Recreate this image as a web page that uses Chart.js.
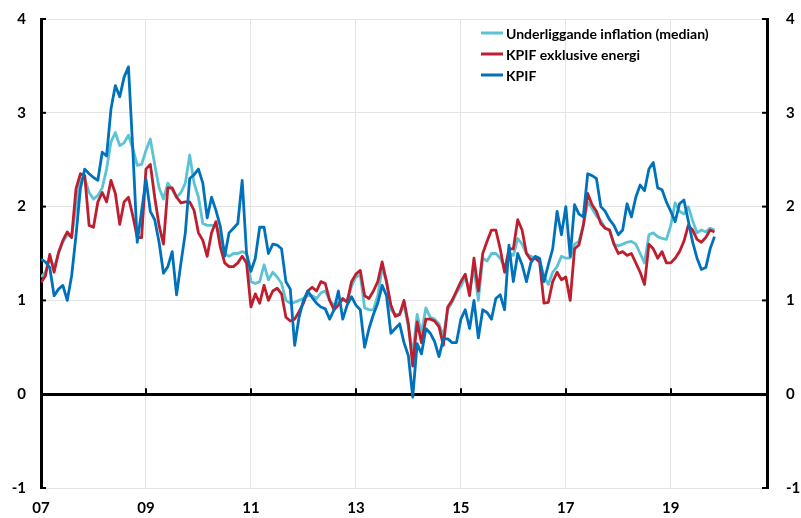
<!DOCTYPE html>
<html>
<head>
<meta charset="utf-8">
<script src="https://cdn.jsdelivr.net/npm/chart.js@4.4.1/dist/chart.umd.min.js"></script>
<style>
  html, body { margin: 0; padding: 0; background: #fff; }
  canvas { display: block; }
</style>
</head>
<body>
<canvas id="chart" width="801" height="518"></canvas>
<script>
// Månadsdata jan 2007 - nov 2019, årlig procentuell förändring
const seriesNames = ["Underliggande inflation (median)", "KPIF exklusive energi", "KPIF"];

const median = [1.25,1.30,1.45,1.35,1.50,1.62,1.70,1.68,2.00,2.30,
  2.30,2.15,2.08,2.12,2.20,2.40,2.69,2.79,2.65,2.68,
  2.76,2.62,2.44,2.45,2.60,2.72,2.45,2.20,2.08,2.25,
  2.18,2.10,2.15,2.25,2.55,2.25,2.10,1.82,1.80,1.80,
  1.80,1.70,1.50,1.47,1.50,1.50,1.52,1.50,1.20,1.18,
  1.20,1.38,1.22,1.30,1.25,1.18,1.00,0.97,0.98,1.00,
  1.02,1.05,1.05,1.02,1.08,1.10,1.00,0.95,0.98,1.00,
  1.00,1.15,1.25,1.27,0.92,0.90,0.90,1.05,1.35,1.20,
  0.90,0.85,0.85,0.95,0.72,0.42,0.85,0.65,0.92,0.82,
  0.80,0.75,0.62,0.90,0.98,1.08,1.15,1.25,1.10,1.35,
  1.00,1.45,1.42,1.50,1.50,1.45,1.35,1.50,1.48,1.66,
  1.60,1.50,1.47,1.45,1.42,1.26,1.17,1.30,1.36,1.47,
  1.45,1.45,1.60,1.63,1.80,2.05,1.98,1.90,1.85,1.77,
  1.75,1.60,1.58,1.60,1.62,1.63,1.60,1.50,1.40,1.70,
  1.72,1.68,1.66,1.65,1.80,2.04,1.95,1.92,2.00,1.85,
  1.72,1.75,1.73,1.77,1.75];

const exEnergi = [1.19,1.26,1.49,1.30,1.51,1.64,1.73,1.67,2.19,2.35,
  2.33,1.80,1.78,2.05,2.15,2.05,2.28,2.14,1.81,2.05,
  2.10,1.90,1.67,1.67,2.40,2.45,2.10,1.80,1.60,2.20,
  2.20,2.10,2.04,2.05,2.05,1.96,1.72,1.64,1.47,1.72,
  1.84,1.57,1.40,1.36,1.36,1.40,1.47,1.40,0.93,1.07,
  0.97,1.16,1.00,1.10,1.13,1.07,0.82,0.78,0.80,0.88,
  0.97,1.10,1.14,1.10,1.20,1.18,1.00,0.90,0.95,1.02,
  0.98,1.20,1.28,1.32,1.05,1.02,1.10,1.20,1.41,1.20,
  0.95,0.83,0.85,1.00,0.75,0.30,0.77,0.55,0.80,0.80,
  0.78,0.72,0.52,0.93,1.00,1.10,1.20,1.28,1.05,1.45,
  1.10,1.50,1.63,1.75,1.75,1.55,1.30,1.55,1.55,1.86,
  1.75,1.50,1.43,1.45,1.41,0.97,0.98,1.20,1.30,1.22,
  1.25,1.00,1.55,1.59,1.80,2.14,2.02,1.95,1.82,1.77,
  1.75,1.60,1.50,1.52,1.48,1.50,1.40,1.30,1.17,1.60,
  1.55,1.45,1.52,1.40,1.40,1.45,1.52,1.63,1.80,1.75,
  1.65,1.62,1.67,1.75,1.73];

const kpif = [1.44,1.41,1.35,1.05,1.12,1.16,1.00,1.26,1.69,2.19,
  2.40,2.35,2.31,2.28,2.58,2.54,3.04,3.29,3.17,3.38,
  3.49,2.60,1.62,1.95,2.29,1.95,1.86,1.62,1.29,1.36,
  1.52,1.06,1.40,1.72,2.30,2.34,2.40,2.25,1.88,2.10,
  1.96,1.79,1.47,1.72,1.77,1.82,2.28,1.50,1.31,1.45,
  1.78,1.78,1.50,1.60,1.59,1.55,1.20,1.12,0.52,0.82,
  1.00,1.10,1.03,0.97,0.93,0.91,0.80,0.90,1.10,0.80,
  0.95,1.04,0.95,0.90,0.50,0.70,0.85,0.97,1.16,1.05,
  0.65,0.70,0.75,0.55,0.41,-0.03,0.54,0.43,0.70,0.65,
  0.56,0.40,0.59,0.59,0.55,0.55,0.80,0.90,0.70,1.00,
  0.60,0.90,0.87,0.80,1.02,1.06,0.90,1.59,1.20,1.50,
  1.38,1.20,1.40,1.47,1.45,1.20,1.38,1.55,1.95,1.70,
  2.00,1.47,2.02,1.92,1.89,2.35,2.33,2.30,2.00,1.95,
  1.86,1.80,1.70,1.75,2.03,1.89,2.10,2.23,2.17,2.40,
  2.47,2.20,2.18,2.05,1.95,1.84,2.03,2.07,1.85,1.62,
  1.45,1.33,1.35,1.55,1.68];

const yearTicks = [0, 24, 48, 72, 96, 120, 144];   // månadsindex från jan 2007
const yearLabels = ["07", "09", "11", "13", "15", "17", "19"];
const yTicks = [-1, 0, 1, 2, 3, 4];

const colors = ["#5cc3d5", "#be1e2d", "#0071bb"];
const tickFont = { family: "Lato", size: 15, weight: "bold" };

function toPoints(arr) {
  return arr.map((v, i) => ({ x: i, y: v }));
}

// ta bort extra utfyllnad som axeltexterna annars ger
function noPad(s) {
  s.paddingTop = 0;
  s.paddingBottom = 0;
}

// Små streck på axlarna + legend inne i diagrammet
const extras = {
  id: "extras",
  afterDraw(chart) {
    const { ctx, chartArea: a, scales: { x, y } } = chart;
    ctx.save();
    ctx.strokeStyle = "#000";
    ctx.lineWidth = 2;
    const line = (x1, y1, x2, y2) => {
      ctx.beginPath(); ctx.moveTo(x1, y1); ctx.lineTo(x2, y2); ctx.stroke();
    };
    yTicks.forEach(v => {
      const py = y.getPixelForValue(v);
      line(a.left, py, a.left + 5, py);
      line(a.right - 5, py, a.right, py);
    });
    const y0 = y.getPixelForValue(0);
    yearTicks.slice(1).forEach(v => {
      const px = Math.round(x.getPixelForValue(v));
      line(px, y0 + 1, px, y0 - 6);
    });

    // legend
    ctx.font = "bold 14px Lato";
    ctx.textBaseline = "middle";
    ctx.fillStyle = "#000";
    chart.data.datasets.forEach((ds, i) => {
      const ly = 33 + i * 21;
      ctx.strokeStyle = ds.borderColor;
      ctx.lineWidth = 3;
      line(481, ly, 503, ly);
      ctx.fillText(ds.label, 506, ly + 1);
    });
    ctx.restore();
  }
};

new Chart(document.getElementById("chart"), {
  type: "line",
  data: {
    datasets: [
      { label: seriesNames[0], data: toPoints(median), borderColor: colors[0], order: 3 },
      { label: seriesNames[1], data: toPoints(exEnergi), borderColor: colors[1], order: 2 },
      { label: seriesNames[2], data: toPoints(kpif), borderColor: colors[2], order: 1 }
    ]
  },
  options: {
    responsive: false,
    animation: false,
    devicePixelRatio: 1,
    layout: { padding: { top: 19, left: 0, right: 0, bottom: 0 } },
    elements: {
      line: { borderWidth: 2.8, tension: 0, borderJoinStyle: "round" },
      point: { radius: 0 }
    },
    plugins: { legend: { display: false }, tooltip: { enabled: false } },
    scales: {
      x: {
        type: "linear",
        min: 0,
        max: 166,
        afterBuildTicks: s => { s.ticks = yearTicks.map(v => ({ value: v })); },
        afterFit: s => { s.height = 30; },
        ticks: {
          callback: v => yearLabels[yearTicks.indexOf(v)],
          font: tickFont, color: "#000", padding: 11, maxRotation: 0, autoSkip: false
        },
        grid: { color: "#e4e4e4", lineWidth: 1, drawTicks: false },
        border: { display: false }
      },
      y: {
        min: -1,
        max: 4,
        afterFit: s => { s.width = 41; noPad(s); },
        ticks: { stepSize: 1, font: tickFont, color: "#000", padding: 15 },
        grid: {
          drawTicks: false,
          color: c => c.tick.value === 0 ? "#000" : "#e4e4e4",
          lineWidth: c => c.tick.value === 0 ? 3 : 1
        },
        border: { color: "#000", width: 3 }
      },
      y2: {
        position: "right",
        min: -1,
        max: 4,
        afterFit: s => { s.width = 34; noPad(s); },
        ticks: { stepSize: 1, font: tickFont, color: "#000", padding: 19 },
        grid: { display: false, drawTicks: false },
        border: { color: "#000", width: 3 }
      }
    }
  },
  plugins: [extras]
});
</script>
</body>
</html>
